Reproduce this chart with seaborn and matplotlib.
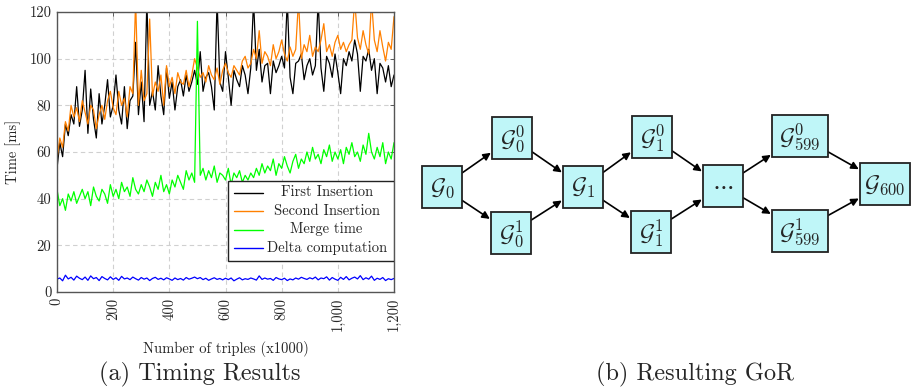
import numpy as np
import pandas as pd
import matplotlib
matplotlib.use("Agg")
import matplotlib.pyplot as plt
from matplotlib.patches import Rectangle, FancyArrowPatch
from matplotlib.lines import Line2D
import seaborn as sns

# ---------------- data ----------------
x_vals = list(range(0, 1201, 10))

first_insertion = [
    53, 64, 58, 72, 67, 76, 72, 88, 71, 78,
    95, 68, 87, 74, 66, 85, 72, 80, 91, 75,
    80, 93, 78, 72, 88, 70, 82, 84, 107, 76,
    90, 73, 125, 80, 86, 78, 97, 84, 76, 96,
    83, 90, 78, 88, 91, 84, 93, 86, 90, 95,
    89, 103, 86, 92, 94, 88, 78, 125, 90, 86,
    103, 92, 80, 95, 91, 88, 97, 93, 85, 96,
    125, 95, 104, 90, 97, 98, 85, 99, 94, 97,
    101, 96, 125, 92, 85, 98, 99, 102, 91, 97,
    100, 93, 97, 125, 96, 86, 101, 98, 92, 102,
    94, 85, 100, 97, 103, 99, 108, 102, 86, 101,
    99, 104, 95, 100, 85, 98, 96, 90, 97, 88,
    93,
]

second_insertion = [
    57, 66, 62, 73, 69, 80, 75, 79, 73, 82,
    77, 72, 80, 78, 70, 76, 80, 74, 82, 86,
    79, 76, 86, 80, 83, 75, 88, 85, 125, 80,
    95, 82, 85, 117, 84, 90, 86, 93, 80, 97,
    88, 92, 85, 94, 90, 89, 95, 88, 93, 100,
    96, 92, 94, 90, 97, 93, 91, 96, 89, 95,
    98, 94, 92, 97, 95, 93, 99, 101, 96, 98,
    104, 100, 112, 98, 103, 101, 97, 106, 100, 103,
    108, 102, 99, 105, 101, 104, 125, 100, 106, 103,
    110, 101, 105, 103, 108, 115, 103, 106, 101, 107,
    110, 104, 107, 103, 106, 108, 125, 109, 104, 112,
    106, 102, 125, 108, 103, 112, 105, 99, 107, 104,
    118,
]

merge_time = [
    44, 37, 40, 35, 42, 39, 43, 38, 41, 44,
    40, 43, 37, 45, 41, 39, 44, 42, 38, 46,
    41, 44, 40, 47, 43, 45, 41, 49, 44, 42,
    46, 43, 48, 45, 41, 47, 44, 50, 43, 46,
    42, 48, 45, 50, 47, 44, 52, 48, 51, 47,
    116, 50, 53, 48, 52, 49, 54, 47, 51, 50,
    48, 53, 46, 51, 49, 52, 47, 50, 48, 51,
    49, 53, 50, 55, 51, 54, 52, 57, 50, 55,
    53, 58, 54, 51, 56, 59, 53, 57, 55, 60,
    56, 62, 57, 59, 55, 61, 58, 63, 56, 60,
    57, 61, 55, 62, 59, 64, 58, 60, 56, 63,
    59, 68, 60, 57, 62, 58, 64, 55, 60, 57,
    64,
]

delta_computation = [
    5.5, 6.0, 4.8, 7.2, 5.6, 6.3, 5.1, 6.8, 5.9, 5.3,
    6.4, 5.0, 6.9, 5.7, 6.2, 4.9, 6.6, 5.8, 5.2, 6.5,
    5.4, 6.1, 5.0, 6.7, 5.6, 6.0, 5.3, 6.4, 5.7, 5.1,
    6.2, 5.5, 6.0, 4.9, 5.8, 6.3, 5.4, 5.9, 5.2, 6.1,
    5.6, 5.0, 6.0, 5.3, 5.8, 5.1, 6.2, 5.5, 5.9, 6.4,
    5.7, 6.2, 5.3, 5.9, 5.0, 5.6, 6.1, 5.4, 5.8, 5.2,
    5.9, 5.3, 6.0, 4.8, 5.5, 6.1, 5.2, 5.7, 5.4, 6.0,
    5.6, 5.1, 6.9, 5.4, 6.0, 5.5, 5.8, 5.0, 6.2, 5.6,
    5.3, 5.9, 4.9, 5.6, 5.2, 6.0, 5.5, 6.3, 5.8, 5.4,
    6.1, 5.6, 6.4, 5.2, 6.0, 5.7, 6.5, 5.1, 6.2, 5.5,
    5.0, 6.3, 5.4, 6.6, 5.2, 5.9, 6.4, 5.6, 7.0, 5.3,
    6.1, 5.5, 6.8, 5.0, 5.9, 5.4, 6.2, 4.9, 5.7, 5.3,
    5.8,
]

series_names = ["First Insertion", "Second Insertion", "Merge time", "Delta computation"]
series_colors = ["#000000", "#ff8000", "#00ff00", "#0000ff"]

x_ticks = [0, 200, 400, 600, 800, 1000, 1200]
x_tick_labels = ["0", "200", "400", "600", "800", "1,000", "1,200"]
y_ticks = [0, 20, 40, 60, 80, 100, 120]

# diagram nodes
node_labels = {
    "G0": r"$\mathcal{G}_0$",
    "G00": r"$\mathcal{G}_0^0$",
    "G01": r"$\mathcal{G}_0^1$",
    "G1": r"$\mathcal{G}_1$",
    "G10": r"$\mathcal{G}_1^0$",
    "G11": r"$\mathcal{G}_1^1$",
    "dots": r"$\cdots$",
    "G5990": r"$\mathcal{G}_{599}^0$",
    "G5991": r"$\mathcal{G}_{599}^1$",
    "G600": r"$\mathcal{G}_{600}$",
}
edges = [("G0", "G00"), ("G0", "G01"), ("G00", "G1"), ("G01", "G1"),
         ("G1", "G10"), ("G1", "G11"), ("G10", "dots"), ("G11", "dots"),
         ("dots", "G5990"), ("dots", "G5991"), ("G5990", "G600"), ("G5991", "G600")]

# ---------------- style ----------------
sns.set_theme(style="white")
plt.rcParams["font.family"] = ["cmr10", "DejaVu Serif"]
plt.rcParams["mathtext.fontset"] = "cm"
plt.rcParams["axes.unicode_minus"] = False

W, H = 917, 391
fig = plt.figure(figsize=(W / 100, H / 100), dpi=100)

def frac_box(x0, y0, x1, y1):
    return [x0 / W, 1 - y1 / H, (x1 - x0) / W, (y1 - y0) / H]

# ---------------- panel (a) ----------------
ax = fig.add_axes(frac_box(57, 12, 394, 292))
df = pd.concat([
    pd.DataFrame({"x": x_vals, "y": vals, "series": name})
    for name, vals in zip(series_names, [first_insertion, second_insertion, merge_time, delta_computation])
])
sns.lineplot(data=df, x="x", y="y", hue="series", hue_order=series_names,
             palette=series_colors, estimator=None, sort=False, legend=False,
             linewidth=0.9, ax=ax)
ax.set_xlim(0, 1200)
ax.set_ylim(0, 120)
ax.set_xticks(x_ticks)
ax.set_xticklabels(x_tick_labels, rotation=90, fontsize=10.5)
ax.set_yticks(y_ticks)
ax.set_yticklabels([str(v) for v in y_ticks], fontsize=10.5)
ax.tick_params(direction="in", length=3, width=0.6, color="#444444",
               top=True, right=True, pad=4)
ax.grid(True, color="#d0d0d0", linestyle=(0, (4, 3)), linewidth=0.8)
ax.set_axisbelow(True)
for s in ax.spines.values():
    s.set_color("#555555")
    s.set_linewidth(1.0)
ax.set_xlabel("Number of triples (x1000)", fontsize=10.5, labelpad=7)
ax.set_ylabel("Time [ms]", fontsize=10.5, labelpad=6)

# custom legend (centred entries, as in pgfplots)
lx0, lx1 = (228 - 57) / 337, 1.0
ly0, ly1 = (292 - 261) / 280, (292 - 181) / 280
ax.add_patch(Rectangle((lx0, ly0), lx1 - lx0, ly1 - ly0, transform=ax.transAxes,
                       facecolor="white", edgecolor="#222222", linewidth=1.0, zorder=5))
row_y = [(292 - 192.5) / 280, (292 - 211) / 280, (292 - 229.5) / 280, (292 - 248) / 280]
for name, col, yy in zip(series_names, series_colors, row_y):
    ax.add_line(Line2D([0.525, 0.611], [yy, yy], transform=ax.transAxes,
                       color=col, linewidth=1.0, zorder=6))
    ax.text(0.80, yy, name, transform=ax.transAxes, ha="center", va="center",
            fontsize=10.5, zorder=6)

fig.text(200 / W, 1 - 374 / H, "(a) Timing Results", ha="center", va="center", fontsize=17.5)

# ---------------- panel (b) ----------------
bx = fig.add_axes([0, 0, 1, 1])
bx.set_xlim(0, W)
bx.set_ylim(H, 0)
bx.axis("off")
bx.patch.set_alpha(0)

node_pos = {
    "G0": (442, 187, 40, 42), "G00": (512, 138, 40, 42), "G01": (511, 233, 40, 42),
    "G1": (583, 187, 40, 42), "G10": (652, 137, 40, 42), "G11": (651, 232, 40, 42),
    "dots": (723, 186, 40, 42), "G5990": (800, 136, 56, 42), "G5991": (800, 231, 56, 42),
    "G600": (885, 184, 50, 42),
}
for key, (cx, cy, w, h) in node_pos.items():
    bx.add_patch(Rectangle((cx - w / 2, cy - h / 2), w, h, facecolor="#bff6f8",
                           edgecolor="#222222", linewidth=1.3, zorder=2))
    bx.text(cx, cy + 1, node_labels[key], ha="center", va="center", fontsize=17, zorder=3)

def clip(cx, cy, w, h, dx, dy):
    t = min((w / 2) / abs(dx) if dx else 1e9, (h / 2) / abs(dy) if dy else 1e9)
    return cx + dx * t, cy + dy * t

for a, b in edges:
    ax_, ay_, aw, ah = node_pos[a]
    bx_, by_, bw, bh = node_pos[b]
    dx, dy = bx_ - ax_, by_ - ay_
    p0 = clip(ax_, ay_, aw, ah, dx, dy)
    p1 = clip(bx_, by_, bw, bh, -dx, -dy)
    bx.add_patch(FancyArrowPatch(p0, p1, arrowstyle="-|>", mutation_scale=11,
                                 linewidth=1.2, color="black", shrinkA=0, shrinkB=1, zorder=1))

fig.text(695 / W, 1 - 374 / H, "(b) Resulting GoR", ha="center", va="center", fontsize=17.5)

fig.savefig("out.png", dpi=100)
